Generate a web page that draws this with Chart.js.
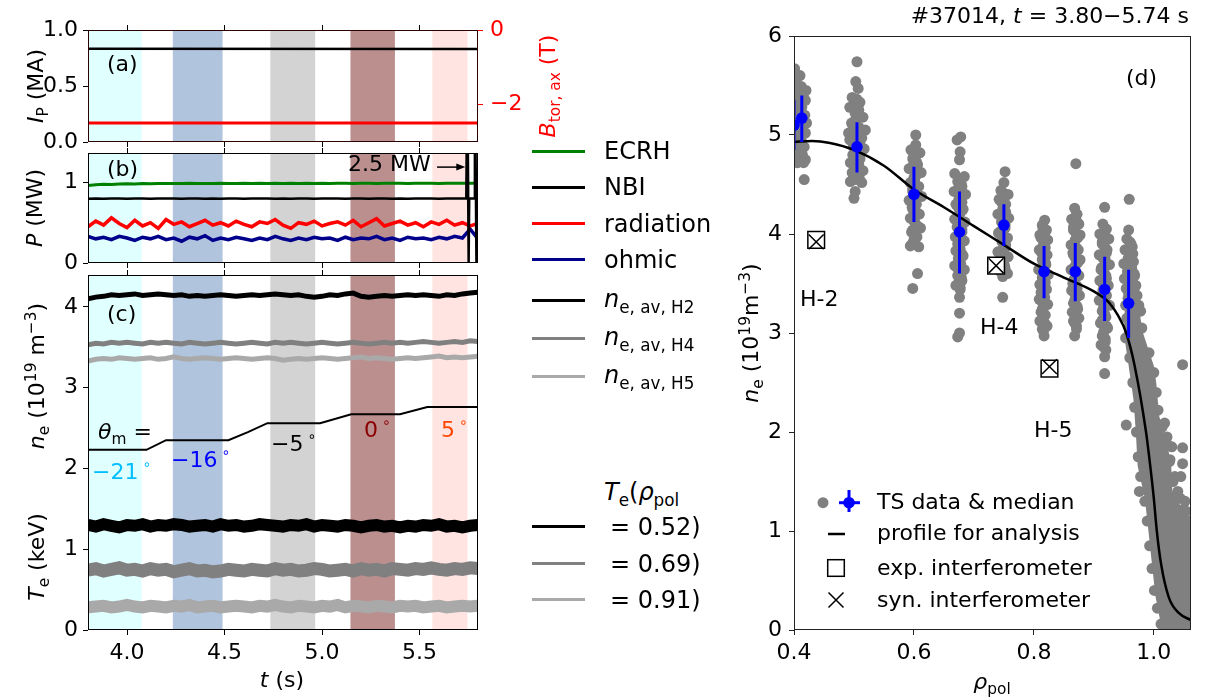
<!DOCTYPE html>
<html>
<head>
<meta charset="utf-8">
<script src="https://cdn.jsdelivr.net/npm/chart.js@4.4.0/dist/chart.umd.min.js"></script>
<style>
body { margin: 0; background: #fff; }
#fig { position: relative; width: 1205px; height: 700px; font-family: 'DejaVu Sans', sans-serif; color: #000; overflow: hidden; background: #fff; }
canvas { position: absolute; top: 0; }
.t { position: absolute; white-space: nowrap; font-size: 22px; line-height: 1; }
.cy { transform: translateY(-50%); }
.ctr { transform: translate(-50%, -50%); }
.rot { transform: translate(-50%, -50%) rotate(-90deg); }
.lg { font-size: 24px; }
.key { position: absolute; left: 532px; width: 53px; height: 3px; }
.deg { font-size: 14px; vertical-align: 10px; margin-left: 4px; }
sub, sup { font-size: 70%; line-height: 0; }
</style>
</head>
<body>
<div id="fig">
  <canvas id="cA" width="560" height="700" style="left:0"></canvas>
  <canvas id="cB" width="560" height="700" style="left:0"></canvas>
  <canvas id="cC" width="560" height="700" style="left:0"></canvas>
  <canvas id="cD" width="505" height="700" style="left:700px"></canvas>

  <!-- left column axis labels -->
  <div class="t rot" style="left:36px;top:86px"><i>I</i><sub>P</sub> (MA)</div>
  <div class="t rot" style="left:35px;top:208px"><i>P</i> (MW)</div>
  <div class="t rot" style="left:37px;top:376px"><i>n</i><sub>e</sub> (10<sup>19</sup> m<sup>−3</sup>)</div>
  <div class="t rot" style="left:37px;top:557px"><i>T</i><sub>e</sub> (keV)</div>
  <div class="t rot" style="left:548px;top:86px;color:#ff0000"><i>B</i><sub>tor, ax</sub> (T)</div>
  <div class="t ctr" style="left:282px;top:680px"><i>t</i> (s)</div>

  <div class="t cy" style="left:107px;top:64px">(a)</div>
  <div class="t cy" style="left:107px;top:169px">(b)</div>
  <div class="t cy" style="left:107px;top:314px">(c)</div>
  <div class="t cy" style="left:348px;top:164px">2.5 MW</div>

  <div class="t cy" style="left:98px;top:432px"><i>θ</i><sub>m</sub> =</div>
  <div class="t cy" style="left:92px;top:470px;color:#00bfff">−21<span class="deg">∘</span></div>
  <div class="t cy" style="left:171px;top:458px;color:#0000ff">−16<span class="deg">∘</span></div>
  <div class="t cy" style="left:271px;top:442px">−5<span class="deg">∘</span></div>
  <div class="t cy" style="left:364px;top:428px;color:#8b0000">0<span class="deg">∘</span></div>
  <div class="t cy" style="left:441px;top:428px;color:#ff4500">5<span class="deg">∘</span></div>

  <!-- middle legend -->
  <div class="key" style="top:150px;background:#008000"></div>
  <div class="key" style="top:186px;background:#000"></div>
  <div class="key" style="top:222px;background:#ff0000"></div>
  <div class="key" style="top:258px;background:#00008b"></div>
  <div class="key" style="top:299px;background:#000"></div>
  <div class="key" style="top:337px;background:#808080"></div>
  <div class="key" style="top:375px;background:#a9a9a9"></div>
  <div class="key" style="top:525px;background:#000"></div>
  <div class="key" style="top:562px;background:#808080"></div>
  <div class="key" style="top:598px;background:#a9a9a9"></div>
  <div class="t cy lg" style="left:604px;top:151px">ECRH</div>
  <div class="t cy lg" style="left:604px;top:187px">NBI</div>
  <div class="t cy lg" style="left:604px;top:224px">radiation</div>
  <div class="t cy lg" style="left:604px;top:260px">ohmic</div>
  <div class="t cy lg" style="left:604px;top:299px"><i>n</i><sub>e, av, H2</sub></div>
  <div class="t cy lg" style="left:604px;top:337px"><i>n</i><sub>e, av, H4</sub></div>
  <div class="t cy lg" style="left:604px;top:375px"><i>n</i><sub>e, av, H5</sub></div>
  <div class="t cy lg" style="left:604px;top:492px"><i>T</i><sub>e</sub>(<i>ρ</i><sub>pol</sub></div>
  <div class="t cy lg" style="left:610px;top:527px">= 0.52)</div>
  <div class="t cy lg" style="left:610px;top:564px">= 0.69)</div>
  <div class="t cy lg" style="left:610px;top:600px">= 0.91)</div>

  <!-- right panel texts -->
  <div class="t cy" style="right:16px;top:16px">#37014, <i>t</i> = 3.80−5.74 s</div>
  <div class="t rot" style="left:751px;top:333px"><i>n</i><sub>e</sub> (10<sup>19</sup>m<sup>−3</sup>)</div>
  <div class="t ctr" style="left:992px;top:682px"><i>ρ</i><sub>pol</sub></div>
  <div class="t cy" style="left:1126px;top:78px">(d)</div>
  <div class="t cy" style="left:800px;top:299px">H-2</div>
  <div class="t cy" style="left:980px;top:327px">H-4</div>
  <div class="t cy" style="left:1034px;top:430px">H-5</div>
  <div class="t cy" style="left:877px;top:502px">TS data &amp; median</div>
  <div class="t cy" style="left:877px;top:533px">profile for analysis</div>
  <div class="t cy" style="left:877px;top:568px">exp. interferometer</div>
  <div class="t cy" style="left:877px;top:600px">syn. interferometer</div>
  <svg style="position:absolute;left:810px;top:485px" width="60" height="130">
    <circle cx="13" cy="17.7" r="5.5" fill="#808080"/>
    <line x1="39" y1="5" x2="39" y2="27" stroke="#0000ff" stroke-width="3"/>
    <line x1="29" y1="17.7" x2="50" y2="17.7" stroke="#0000ff" stroke-width="3"/>
    <circle cx="39" cy="17.7" r="5.8" fill="#0000ff"/>
    <line x1="18" y1="49" x2="35" y2="49" stroke="#000" stroke-width="2.5"/>
    <rect x="17.7" y="74.7" width="16.6" height="16.6" fill="none" stroke="#000" stroke-width="1.5"/>
    <path d="M18.5 107.5 L33.5 122.5 M33.5 107.5 L18.5 122.5" stroke="#000" stroke-width="1.5" fill="none"/>
  </svg>
</div>

<script>
// ---------- time axis of the left panels ----------
const tMin = 3.8, tMax = 5.8;
const timeTicks = [4.0, 4.5, 5.0, 5.5];
const timeTickLabels = ['4.0', '4.5', '5.0', '5.5'];

// analysis windows, one per mirror angle
const bandStart = [3.800, 4.235, 4.735, 5.146, 5.566];
const bandEnd   = [4.075, 4.490, 4.965, 5.374, 5.746];
const bandColors = ['#e0ffff', '#b0c4de', '#d3d3d3', '#bc8f8f', '#ffe4e1'];

const times = [
  3.80, 3.84, 3.88, 3.92, 3.96, 4.00, 4.04, 4.08, 4.12, 4.16,
  4.20, 4.24, 4.28, 4.32, 4.36, 4.40, 4.44, 4.48, 4.52, 4.56,
  4.60, 4.64, 4.68, 4.72, 4.76, 4.80, 4.84, 4.88, 4.92, 4.96,
  5.00, 5.04, 5.08, 5.12, 5.16, 5.20, 5.24, 5.28, 5.32, 5.36,
  5.40, 5.44, 5.48, 5.52, 5.56, 5.60, 5.64, 5.68, 5.72, 5.76,
  5.80
];

// (a) plasma current and toroidal field
const ipTimes = [3.80, 5.80];
const ipValues = [0.832, 0.830];
const btorValues = [-2.49, -2.49];
const ipTicks = [0, 0.5, 1.0];
const ipTickLabels = ['0.0', '0.5', '1.0'];
const btorTicks = [-2, 0];
const btorTickLabels = ['−2', '0'];

// (b) heating powers
const ecrh = [
  0.963, 0.970, 0.976, 0.973, 0.980, 0.983, 0.981, 0.986, 0.984, 0.987,
  0.985, 0.988, 0.986, 0.989, 0.987, 0.988, 0.986, 0.989, 0.988, 0.987,
  0.989, 0.988, 0.990, 0.987, 0.989, 0.988, 0.990, 0.988, 0.989, 0.987,
  0.990, 0.988, 0.989, 0.991, 0.988, 0.990, 0.989, 0.988, 0.990, 0.989,
  0.991, 0.988, 0.990, 0.989, 0.990, 0.988, 0.991, 0.989, 0.990, 0.989,
  0.990
];
const nbi = [
  0.798, 0.800, 0.797, 0.799, 0.801, 0.798, 0.800, 0.799, 0.797, 0.800,
  0.799, 0.801, 0.798, 0.800, 0.799, 0.797, 0.800, 0.798, 0.801, 0.799,
  0.798, 0.800, 0.799, 0.801, 0.798, 0.800, 0.797, 0.799, 0.800, 0.798,
  0.801, 0.799, 0.800, 0.798, 0.799, 0.801, 0.798, 0.800, 0.799, 0.797,
  0.800, 0.798, 0.801, 0.799, 0.800, 0.798, 0.799, 0.801, 0.800
];
const nbiTailTimes  = [5.740, 5.745, 5.752, 5.755, 5.780, 5.784, 5.792, 5.795, 5.800];
const nbiTailValues = [0.800, 2.5,   0.0,   0.800, 0.800, 2.5,   0.0,   0.800, 0.800];
const radiation = [
  0.45, 0.52, 0.47, 0.56, 0.49, 0.44, 0.53, 0.46, 0.50, 0.43,
  0.54, 0.48, 0.51, 0.45, 0.49, 0.53, 0.47, 0.50, 0.46, 0.52,
  0.48, 0.45, 0.51, 0.49, 0.54, 0.47, 0.43, 0.50, 0.48, 0.52,
  0.46, 0.49, 0.51, 0.47, 0.53, 0.45, 0.50, 0.55, 0.46, 0.49,
  0.52, 0.47, 0.50, 0.45, 0.51, 0.48, 0.53, 0.47, 0.50, 0.46,
  0.49
];
const ohmic = [
  0.33, 0.30, 0.32, 0.29, 0.33, 0.31, 0.28, 0.32, 0.30, 0.33,
  0.29, 0.31, 0.27, 0.32, 0.30, 0.34, 0.28, 0.31, 0.29, 0.32,
  0.30, 0.28, 0.31, 0.29, 0.33, 0.30, 0.28, 0.31, 0.29, 0.32,
  0.30, 0.31, 0.28, 0.32, 0.29, 0.31, 0.30, 0.33, 0.29, 0.31,
  0.28, 0.32, 0.30, 0.31, 0.29, 0.32, 0.30, 0.33, 0.31, 0.42,
  0.30
];
const pTicks = [0, 1];
const pTickLabels = ['0', '1'];

// (c) line averaged densities, mirror angle trace, temperatures
const neH2 = [
  4.10, 4.12, 4.13, 4.15, 4.14, 4.15, 4.16, 4.14, 4.15, 4.16,
  4.15, 4.14, 4.15, 4.13, 4.14, 4.13, 4.14, 4.15, 4.14, 4.13,
  4.14, 4.15, 4.14, 4.15, 4.16, 4.15, 4.14, 4.15, 4.13, 4.12,
  4.13, 4.15, 4.14, 4.16, 4.17, 4.13, 4.12, 4.13, 4.14, 4.13,
  4.14, 4.15, 4.14, 4.15, 4.14, 4.13, 4.15, 4.14, 4.16, 4.17,
  4.18
];
const neH4 = [
  3.53, 3.55, 3.54, 3.56, 3.55, 3.56, 3.55, 3.54, 3.56, 3.55,
  3.56, 3.55, 3.54, 3.56, 3.55, 3.54, 3.55, 3.56, 3.55, 3.54,
  3.55, 3.56, 3.55, 3.54, 3.56, 3.55, 3.56, 3.55, 3.54, 3.55,
  3.56, 3.55, 3.54, 3.55, 3.56, 3.55, 3.54, 3.55, 3.56, 3.55,
  3.56, 3.55, 3.56, 3.57, 3.56, 3.55, 3.56, 3.57, 3.56, 3.58,
  3.57
];
const neH5 = [
  3.33, 3.35, 3.36, 3.35, 3.37, 3.36, 3.35, 3.36, 3.37, 3.35,
  3.36, 3.38, 3.36, 3.35, 3.36, 3.37, 3.36, 3.35, 3.36, 3.37,
  3.36, 3.35, 3.36, 3.37, 3.36, 3.34, 3.35, 3.36, 3.35, 3.36,
  3.37, 3.36, 3.35, 3.36, 3.37, 3.38, 3.36, 3.37, 3.36, 3.35,
  3.36, 3.37, 3.36, 3.37, 3.38, 3.39, 3.37, 3.38, 3.37, 3.38,
  3.39
];
const thetaTimes  = [3.80, 4.10, 4.20, 4.52, 4.62, 4.72, 4.99, 5.15, 5.40, 5.54, 5.80];
const thetaLevels = [2.23, 2.23, 2.35, 2.35, 2.45, 2.56, 2.56, 2.67, 2.67, 2.76, 2.76];
const te052 = [
  1.30, 1.28, 1.31, 1.29, 1.27, 1.30, 1.29, 1.31, 1.28, 1.30,
  1.29, 1.31, 1.30, 1.28, 1.29, 1.30, 1.28, 1.31, 1.29, 1.30,
  1.28, 1.29, 1.31, 1.30, 1.29, 1.28, 1.30, 1.29, 1.31, 1.28,
  1.30, 1.29, 1.28, 1.30, 1.29, 1.27, 1.29, 1.30, 1.28, 1.29,
  1.27, 1.29, 1.28, 1.30, 1.29, 1.31, 1.28, 1.29, 1.27, 1.29,
  1.30
];
const te069 = [
  0.74, 0.76, 0.73, 0.75, 0.77, 0.74, 0.75, 0.73, 0.76, 0.74,
  0.75, 0.72, 0.74, 0.76, 0.73, 0.74, 0.72, 0.73, 0.75, 0.74,
  0.73, 0.75, 0.74, 0.73, 0.76, 0.74, 0.75, 0.73, 0.74, 0.76,
  0.75, 0.73, 0.74, 0.75, 0.73, 0.76, 0.74, 0.75, 0.73, 0.76,
  0.75, 0.74, 0.76, 0.75, 0.77, 0.75, 0.74, 0.76, 0.75, 0.77,
  0.76
];
const te091 = [
  0.28, 0.29, 0.30, 0.28, 0.29, 0.31, 0.29, 0.28, 0.30, 0.29,
  0.28, 0.30, 0.29, 0.31, 0.28, 0.29, 0.30, 0.28, 0.29, 0.30,
  0.29, 0.28, 0.30, 0.29, 0.31, 0.29, 0.28, 0.30, 0.29, 0.28,
  0.30, 0.29, 0.31, 0.28, 0.30, 0.29, 0.28, 0.30, 0.29, 0.28,
  0.30, 0.29, 0.30, 0.28, 0.29, 0.30, 0.28, 0.29, 0.30, 0.29,
  0.30
];
const cTicks = [0, 1, 2, 3, 4];
const cTickLabels = ['0', '1', '2', '3', '4'];

// (d) Thomson scattering profile
const rhoTicks = [0.4, 0.6, 0.8, 1.0];
const rhoTickLabels = ['0.4', '0.6', '0.8', '1.0'];
const dTicks = [0, 1, 2, 3, 4, 5, 6];
const dTickLabels = ['0', '1', '2', '3', '4', '5', '6'];

// single TS measurements, one channel group per line block
const tsRho = [
  0.401, 0.403, 0.405, 0.402, 0.406, 0.401, 0.404, 0.402, 0.405, 0.401, 0.403, 0.406, 0.412, 0.416,
  0.419, 0.413, 0.418, 0.415, 0.419, 0.412, 0.417, 0.414, 0.419, 0.416, 0.417, 0.420, 0.421, 0.410,
  0.505, 0.503, 0.507, 0.497, 0.510, 0.493, 0.502, 0.515, 0.496, 0.508, 0.500, 0.513, 0.493, 0.504,
  0.517, 0.498, 0.510, 0.494, 0.506, 0.515, 0.499, 0.509, 0.494, 0.513, 0.502, 0.500, 0.519, 0.491,
  0.603, 0.603, 0.595, 0.610, 0.598, 0.606, 0.592, 0.612, 0.600, 0.594, 0.608, 0.598, 0.613, 0.592,
  0.604, 0.598, 0.609, 0.594, 0.602, 0.611, 0.596, 0.605, 0.600, 0.594, 0.608, 0.606, 0.598,
  0.678, 0.672, 0.677, 0.676, 0.668, 0.684, 0.673, 0.680, 0.667, 0.686, 0.675, 0.670, 0.682, 0.676,
  0.668, 0.685, 0.672, 0.680, 0.669, 0.684, 0.675, 0.670, 0.682, 0.676, 0.668, 0.684, 0.673, 0.680,
  0.670, 0.677, 0.676, 0.676, 0.676, 0.673,
  0.752, 0.750, 0.745, 0.757, 0.742, 0.753, 0.748, 0.740, 0.758, 0.746, 0.752, 0.741, 0.756, 0.747,
  0.752, 0.740, 0.757, 0.745, 0.751, 0.742, 0.756, 0.748, 0.748,
  0.818, 0.814, 0.821, 0.810, 0.823, 0.816, 0.809, 0.822, 0.814, 0.820, 0.808, 0.824, 0.815, 0.810,
  0.821, 0.816, 0.809, 0.823, 0.814, 0.819, 0.810, 0.822, 0.816, 0.817,
  0.870, 0.868, 0.872, 0.863, 0.875, 0.866, 0.877, 0.869, 0.862, 0.874, 0.866, 0.877, 0.870, 0.862,
  0.875, 0.866, 0.871, 0.863, 0.876, 0.868, 0.872, 0.864, 0.875, 0.868, 0.871, 0.868,
  0.918, 0.915, 0.921, 0.910, 0.925, 0.914, 0.922, 0.909, 0.919, 0.926, 0.912, 0.920, 0.910, 0.924,
  0.915, 0.921, 0.909, 0.926, 0.914, 0.920, 0.911, 0.923, 0.916, 0.919, 0.912, 0.920, 0.918, 0.918,
  0.959, 0.958, 0.955, 0.962, 0.952, 0.965, 0.957, 0.950, 0.963, 0.956, 0.968, 0.951, 0.960, 0.970,
  0.954, 0.963, 0.972, 0.957, 0.966, 0.975, 0.953, 0.962, 0.978,
  1.048, 0.954, 1.018, 1.048, 1.048, 1.035, 1.045, 0.976, 1.046, 1.030, 1.026, 1.040, 1.052, 1.022,
  0.955, 0.953, 0.960, 0.965, 0.968, 0.971, 0.974, 0.978, 0.985, 0.989, 0.993, 0.997, 1.001, 1.006, 1.012,
  0.980, 0.992, 1.000, 1.004, 1.007, 1.014, 1.022, 1.027, 1.032, 1.044, 1.054, 1.058
];
const tsNe = [
  5.67, 5.55, 5.45, 5.38, 5.30, 5.22, 5.15, 5.05, 4.95, 4.88, 4.80, 4.72, 5.49, 5.42,
  5.35, 5.28, 5.20, 5.10, 5.02, 4.95, 4.88, 4.80, 4.75, 4.72, 4.55, 5.45, 5.12, 5.60,
  5.74, 5.54, 5.47, 5.38, 5.33, 5.28, 5.22, 5.18, 5.12, 5.08, 5.02, 4.97, 4.95, 4.90,
  4.86, 4.80, 4.76, 4.72, 4.68, 4.64, 4.60, 4.56, 4.53, 4.52, 4.43, 4.36, 5.05, 5.02,
  5.00, 4.90, 4.85, 4.82, 4.76, 4.70, 4.66, 4.62, 4.57, 4.52, 4.48, 4.43, 4.38, 4.34,
  4.30, 4.25, 4.20, 4.16, 4.11, 4.06, 4.02, 3.97, 3.92, 3.88, 3.87, 3.60, 3.45,
  4.98, 4.95, 4.83, 4.75, 4.61, 4.58, 4.53, 4.48, 4.43, 4.40, 4.35, 4.30, 4.25, 4.20,
  4.15, 4.12, 4.07, 4.02, 3.97, 3.93, 3.88, 3.83, 3.78, 3.73, 3.68, 3.64, 3.58, 3.53,
  3.48, 3.44, 3.36, 3.20, 3.00, 2.96,
  4.63, 4.52, 4.44, 4.40, 4.35, 4.30, 4.25, 4.20, 4.16, 4.12, 4.06, 4.01, 3.96, 3.92,
  3.86, 3.82, 3.77, 3.73, 3.68, 3.63, 3.60, 3.57, 3.36,
  4.14, 4.09, 4.04, 3.99, 3.94, 3.89, 3.84, 3.79, 3.74, 3.69, 3.64, 3.59, 3.54, 3.49,
  3.44, 3.39, 3.34, 3.29, 3.24, 3.18, 3.12, 3.07, 3.02, 2.97,
  4.71, 4.26, 4.20, 4.15, 4.10, 4.04, 3.99, 3.94, 3.89, 3.84, 3.79, 3.74, 3.69, 3.64,
  3.58, 3.53, 3.48, 3.43, 3.38, 3.33, 3.27, 3.21, 3.15, 3.10, 3.04, 2.97,
  4.27, 4.10, 4.05, 4.00, 3.95, 3.90, 3.84, 3.79, 3.74, 3.69, 3.64, 3.58, 3.53, 3.48,
  3.43, 3.38, 3.33, 3.28, 3.22, 3.16, 3.10, 3.05, 3.00, 2.94, 2.88, 2.83, 2.76, 2.59,
  4.35, 4.04, 3.95, 3.90, 3.84, 3.80, 3.75, 3.70, 3.66, 3.62, 3.58, 3.55, 3.52, 3.48,
  3.45, 3.42, 3.38, 3.35, 3.32, 3.28, 3.28, 3.24, 3.22,
  2.68, 2.07, 2.09, 1.84, 1.68, 1.55, 1.55, 1.40, 1.21, 1.85, 1.70, 1.40, 1.30, 1.95,
  3.15, 2.95, 2.75, 2.50, 2.25, 2.00, 1.75, 1.55, 1.30, 1.10, 0.85, 0.62, 0.40, 0.22, 0.06,
  3.05, 2.80, 2.60, 2.40, 2.22, 2.05, 1.88, 1.72, 1.50, 1.33, 1.20, 1.05
];
// dense cores of the channel groups
const tsCoreRho = [
  0.409, 0.407, 0.411, 0.408, 0.410, 0.407, 0.411, 0.409, 0.408, 0.410,
  0.505, 0.500, 0.508, 0.503, 0.498, 0.507, 0.502, 0.510, 0.499, 0.505, 0.501, 0.508, 0.503, 0.497, 0.506, 0.502,
  0.600, 0.604, 0.597, 0.605, 0.601, 0.598, 0.606, 0.602, 0.597, 0.604, 0.600, 0.606, 0.598, 0.603, 0.600, 0.597,
  0.676, 0.679, 0.673, 0.677, 0.680, 0.674, 0.678, 0.672, 0.677, 0.680, 0.675, 0.678, 0.673, 0.677, 0.680, 0.674,
  0.678, 0.672, 0.676, 0.679, 0.674, 0.677,
  0.748, 0.751, 0.745, 0.750, 0.753, 0.746, 0.749, 0.752, 0.745, 0.750, 0.747, 0.753, 0.748, 0.745, 0.751, 0.747,
  0.752, 0.749,
  0.815, 0.818, 0.812, 0.817, 0.819, 0.813, 0.816, 0.819, 0.812, 0.817, 0.814, 0.819, 0.815, 0.812, 0.818, 0.814,
  0.817, 0.812, 0.816, 0.819, 0.814,
  0.869, 0.872, 0.866, 0.870, 0.873, 0.867, 0.871, 0.865, 0.869, 0.873, 0.867, 0.871, 0.868, 0.865, 0.872, 0.868,
  0.870, 0.866, 0.873, 0.869, 0.866, 0.871,
  0.917, 0.920, 0.914, 0.918, 0.921, 0.915, 0.919, 0.913, 0.917, 0.921, 0.915, 0.919, 0.916, 0.913, 0.920, 0.916,
  0.918, 0.914, 0.921, 0.917, 0.914, 0.919, 0.916,
  0.960, 0.964, 0.957, 0.961, 0.966, 0.958, 0.962, 0.967, 0.959, 0.964, 0.960, 0.968, 0.962, 0.958, 0.966, 0.961,
  0.969, 0.963
];
const tsCoreNe = [
  5.46, 5.40, 5.33, 5.26, 5.18, 5.08, 5.00, 4.92, 4.84, 4.77,
  5.36, 5.30, 5.25, 5.16, 5.10, 5.04, 4.99, 4.93, 4.88, 4.83, 4.78, 4.70, 4.66, 4.62, 4.58, 4.55,
  4.80, 4.73, 4.68, 4.60, 4.54, 4.46, 4.40, 4.32, 4.27, 4.22, 4.13, 4.08, 4.04, 3.99, 3.94, 3.90,
  4.56, 4.50, 4.45, 4.38, 4.32, 4.27, 4.22, 4.17, 4.10, 4.05, 4.00, 3.95, 3.90, 3.85, 3.80, 3.75,
  3.70, 3.66, 3.61, 3.56, 3.50, 3.46,
  4.42, 4.37, 4.33, 4.27, 4.22, 4.18, 4.14, 4.09, 4.03, 3.98, 3.94, 3.89, 3.84, 3.79, 3.75, 3.70,
  3.65, 3.61,
  4.06, 4.01, 3.96, 3.91, 3.86, 3.81, 3.76, 3.71, 3.66, 3.61, 3.56, 3.51, 3.46, 3.41, 3.36, 3.31,
  3.26, 3.21, 3.15, 3.09, 3.04,
  4.17, 4.12, 4.07, 4.01, 3.96, 3.91, 3.86, 3.81, 3.76, 3.71, 3.66, 3.61, 3.55, 3.50, 3.45, 3.40,
  3.35, 3.30, 3.24, 3.18, 3.12, 3.07,
  4.02, 3.97, 3.92, 3.87, 3.81, 3.76, 3.71, 3.66, 3.61, 3.55, 3.50, 3.45, 3.40, 3.35, 3.30, 3.25,
  3.19, 3.13, 3.07, 3.02, 2.97, 2.91, 2.86,
  3.92, 3.87, 3.82, 3.77, 3.72, 3.68, 3.64, 3.60, 3.56, 3.53, 3.50, 3.46, 3.43, 3.40, 3.36, 3.33,
  3.30, 3.26
];
// outline of the dense cloud of TS points in the edge
const blobRho = [0.952, 0.950, 0.958, 0.966, 0.970, 0.973, 0.985, 0.991, 0.997, 1.003, 1.012, 1.014,
                 1.062, 1.062, 1.045, 1.031, 1.029, 1.022, 1.009, 1.004, 1.000, 0.982, 0.975, 0.965];
const blobNe  = [3.30, 3.00, 2.67, 2.33, 2.00, 1.66, 1.33, 1.00, 0.66, 0.33, 0.05, 0.00,
                 0.00, 1.14, 1.25, 1.40, 1.66, 1.90, 2.16, 2.50, 2.67, 3.00, 3.25, 3.35];

const medRho = [0.400, 0.413, 0.505, 0.600, 0.676, 0.750, 0.817, 0.869, 0.918, 0.958];
const medNe  = [5.10, 5.17, 4.88, 4.40, 4.02, 4.09, 3.62, 3.62, 3.44, 3.30];
const medLo  = [4.85, 4.93, 4.62, 4.12, 3.60, 3.88, 3.35, 3.32, 3.12, 2.95];
const medHi  = [5.35, 5.40, 5.13, 4.68, 4.43, 4.30, 3.88, 3.91, 3.77, 3.64];

const profRho = [0.400, 0.430, 0.460, 0.500, 0.550, 0.600, 0.650, 0.700, 0.750, 0.800, 0.850, 0.900,
                 0.925, 0.940, 0.954, 0.968, 0.987, 0.994, 1.000, 1.005, 1.012, 1.025, 1.042, 1.062];
const profNe  = [4.93, 4.94, 4.92, 4.85, 4.69, 4.45, 4.27, 4.08, 3.89, 3.70, 3.56, 3.42,
                 3.31, 3.18, 3.00, 2.67, 2.00, 1.66, 1.33, 1.00, 0.67, 0.33, 0.17, 0.10];

const interfRho = [0.437, 0.737, 0.826];
const interfExp = [3.94, 3.68, 2.64];
const interfSyn = [3.92, 3.68, 2.66];

// arrow of the "2.5 MW" note
const arrowFrom = 5.59, arrowTo = 5.735, arrowLevel = 1.19;

// ---------- helpers ----------
Chart.defaults.font.family = "'DejaVu Sans', sans-serif";
Chart.defaults.font.size = 22;
Chart.defaults.color = '#000';
Chart.defaults.animation = false;
Chart.defaults.plugins.legend.display = false;
Chart.defaults.plugins.tooltip.enabled = false;

const setTicks = vals => s => { s.ticks = vals.map(v => ({ value: v })); };
const labelFrom = (vals, labels) => v => labels[vals.indexOf(v)];
const pts = (xs, ys) => xs.map((x, i) => ({ x, y: ys[i] }));

function tickGrid(color) {
  return { display: true, drawOnChartArea: false, drawTicks: true, tickLength: 5, tickWidth: 1, tickColor: color || '#000' };
}

function timeScale(position, withLabels) {
  return {
    type: 'linear', position, min: tMin, max: tMax,
    afterBuildTicks: setTicks(timeTicks),
    afterFit: s => { s.height = withLabels ? 40 : 6; },
    grid: tickGrid(), border: { display: false },
    ticks: { display: withLabels, autoSkip: false, maxRotation: 0, padding: 5, callback: labelFrom(timeTicks, timeTickLabels) }
  };
}

function valueScale(position, min, max, ticks, labels, width, color) {
  return {
    type: 'linear', position, min, max,
    afterBuildTicks: setTicks(ticks),
    afterFit: s => { s.width = width; },
    grid: tickGrid(color), border: { display: false },
    ticks: { autoSkip: false, padding: position === 'right' ? 7 : 5, color: color || '#000', callback: labelFrom(ticks, labels) }
  };
}

function trace(data, color, width, order, yAxisID) {
  return { data, showLine: true, borderColor: color, backgroundColor: color, borderWidth: width,
           pointRadius: 0, order: order || 0, yAxisID: yAxisID || 'y', clip: 0 };
}

const bandPlugin = {
  id: 'bands',
  beforeDatasetsDraw(chart) {
    const { ctx, chartArea: a, scales: { x } } = chart;
    ctx.save();
    bandStart.forEach((s, i) => {
      const x0 = x.getPixelForValue(s), x1 = x.getPixelForValue(bandEnd[i]);
      ctx.fillStyle = bandColors[i];
      ctx.fillRect(x0, a.top, x1 - x0, a.bottom - a.top);
    });
    ctx.restore();
  }
};

function framePlugin(color) {
  return {
    id: 'frame',
    afterDraw(chart) {
      const { ctx, chartArea: a } = chart;
      ctx.save();
      ctx.strokeStyle = color;
      ctx.lineWidth = 1;
      ctx.strokeRect(Math.round(a.left) + 0.5, Math.round(a.top) + 0.5, Math.round(a.right - a.left) - 1, Math.round(a.bottom - a.top) - 1);
      ctx.restore();
    }
  };
}

const arrowPlugin = {
  id: 'arrow',
  afterDatasetsDraw(chart) {
    const { ctx, scales: { x, y } } = chart;
    const x0 = x.getPixelForValue(arrowFrom), x1 = x.getPixelForValue(arrowTo), py = y.getPixelForValue(arrowLevel);
    ctx.save();
    ctx.strokeStyle = '#000'; ctx.fillStyle = '#000'; ctx.lineWidth = 1.5;
    ctx.beginPath(); ctx.moveTo(x0, py); ctx.lineTo(x1 - 6, py); ctx.stroke();
    ctx.beginPath(); ctx.moveTo(x1, py); ctx.lineTo(x1 - 9, py - 3.5); ctx.lineTo(x1 - 9, py + 3.5); ctx.closePath(); ctx.fill();
    ctx.restore();
  }
};

const blobPlugin = {
  id: 'edgeCloud',
  beforeDatasetsDraw(chart) {
    const { ctx, chartArea: a, scales: { x, y } } = chart;
    ctx.save();
    ctx.beginPath(); ctx.rect(a.left, a.top, a.right - a.left, a.bottom - a.top); ctx.clip();
    ctx.beginPath();
    blobRho.forEach((r, i) => {
      const px = x.getPixelForValue(r), py = y.getPixelForValue(blobNe[i]);
      if (i === 0) ctx.moveTo(px, py); else ctx.lineTo(px, py);
    });
    ctx.closePath();
    ctx.fillStyle = '#808080';
    ctx.fill();
    ctx.restore();
  }
};

// ---------- (a) ----------
new Chart(document.getElementById('cA'), {
  type: 'scatter',
  data: { datasets: [
    trace(pts(ipTimes, ipValues), '#000', 2.5, 0, 'y'),
    trace(pts(ipTimes, btorValues), '#ff0000', 3, 1, 'y2')
  ] },
  options: {
    responsive: false,
    layout: { padding: { left: 0, top: 24, right: 22, bottom: 552 } },
    scales: {
      x: timeScale('bottom', false),
      xTop: timeScale('top', false),
      y: valueScale('left', 0, 1, ipTicks, ipTickLabels, 88),
      y2: valueScale('right', -3, 0, btorTicks, btorTickLabels, 60, '#ff0000')
    }
  },
  plugins: [bandPlugin, framePlugin('#2a0000')]
});

// ---------- (b) ----------
const nbiData = pts(times.slice(0, nbi.length), nbi).concat(pts(nbiTailTimes, nbiTailValues));
new Chart(document.getElementById('cB'), {
  type: 'scatter',
  data: { datasets: [
    trace(nbiData, '#000', 2.5, 0),
    trace(pts(times, ecrh), '#008000', 3, 1),
    trace(pts(times, radiation), '#ff0000', 3.5, 2),
    trace(pts(times, ohmic), '#00008b', 3.5, 3)
  ] },
  options: {
    responsive: false,
    layout: { padding: { left: 0, top: 147, right: 82, bottom: 431 } },
    scales: {
      x: timeScale('bottom', false),
      xTop: timeScale('top', false),
      y: valueScale('left', 0, 1.365, pTicks, pTickLabels, 88)
    }
  },
  plugins: [bandPlugin, arrowPlugin, framePlugin('#000')]
});

// ---------- (c) ----------
new Chart(document.getElementById('cC'), {
  type: 'scatter',
  data: { datasets: [
    trace(pts(times, neH2), '#000', 5, 0),
    trace(pts(times, neH4), '#808080', 5, 1),
    trace(pts(times, neH5), '#a9a9a9', 5, 2),
    trace(pts(thetaTimes, thetaLevels), '#000', 2, 3),
    trace(pts(times, te052), '#000', 12, 4),
    trace(pts(times, te069), '#808080', 13, 5),
    trace(pts(times, te091), '#a9a9a9', 12, 6)
  ] },
  options: {
    responsive: false,
    layout: { padding: { left: 0, top: 269, right: 82, bottom: 30 } },
    scales: {
      x: timeScale('bottom', true),
      xTop: timeScale('top', false),
      y: valueScale('left', 0, 4.394, cTicks, cTickLabels, 88)
    }
  },
  plugins: [bandPlugin, framePlugin('#000')]
});

// ---------- (d) ----------
const errData = [];
medRho.forEach((r, i) => { errData.push({ x: r, y: medLo[i] }, { x: r, y: medHi[i] }, { x: r, y: null }); });

new Chart(document.getElementById('cD'), {
  type: 'scatter',
  data: { datasets: [
    { data: pts(interfRho, interfSyn), pointStyle: 'crossRot', pointRadius: 10.5, borderColor: '#000', borderWidth: 1.5, backgroundColor: 'rgba(0,0,0,0)', order: 0, clip: 0 },
    { data: pts(interfRho, interfExp), pointStyle: 'rect', pointRadius: 11.8, borderColor: '#000', borderWidth: 1.5, backgroundColor: '#fff', order: 1, clip: 0 },
    { data: pts(medRho, medNe), pointRadius: 5.8, borderWidth: 0, backgroundColor: '#0000ff', order: 2, clip: 0 },
    { data: errData, showLine: true, borderColor: '#0000ff', borderWidth: 3, pointRadius: 0, order: 3, clip: 0 },
    { data: pts(profRho, profNe), showLine: true, borderColor: '#000', borderWidth: 2.5, pointRadius: 0, cubicInterpolationMode: 'monotone', order: 4, clip: 0 },
    { data: pts(tsRho, tsNe), pointRadius: 5.5, borderWidth: 0, backgroundColor: '#808080', order: 5, clip: 0 },
    { data: pts(tsCoreRho, tsCoreNe), pointRadius: 5.5, borderWidth: 0, backgroundColor: '#808080', order: 6, clip: 0 }
  ] },
  options: {
    responsive: false,
    layout: { padding: { left: 0, top: 36, right: 14, bottom: 30 } },
    scales: {
      x: {
        type: 'linear', position: 'bottom', min: 0.4, max: 1.062,
        afterBuildTicks: setTicks(rhoTicks),
        afterFit: s => { s.height = 40; },
        grid: tickGrid('#222'), border: { display: false },
        ticks: { autoSkip: false, maxRotation: 0, padding: 5, callback: labelFrom(rhoTicks, rhoTickLabels) }
      },
      y: {
        type: 'linear', position: 'left', min: 0, max: 6,
        afterBuildTicks: setTicks(dTicks),
        afterFit: s => { s.width = 94; },
        grid: tickGrid('#222'), border: { display: false },
        ticks: { autoSkip: false, padding: 7, callback: labelFrom(dTicks, dTickLabels) }
      }
    }
  },
  plugins: [blobPlugin, framePlugin('#222')]
});
</script>
</body>
</html>
